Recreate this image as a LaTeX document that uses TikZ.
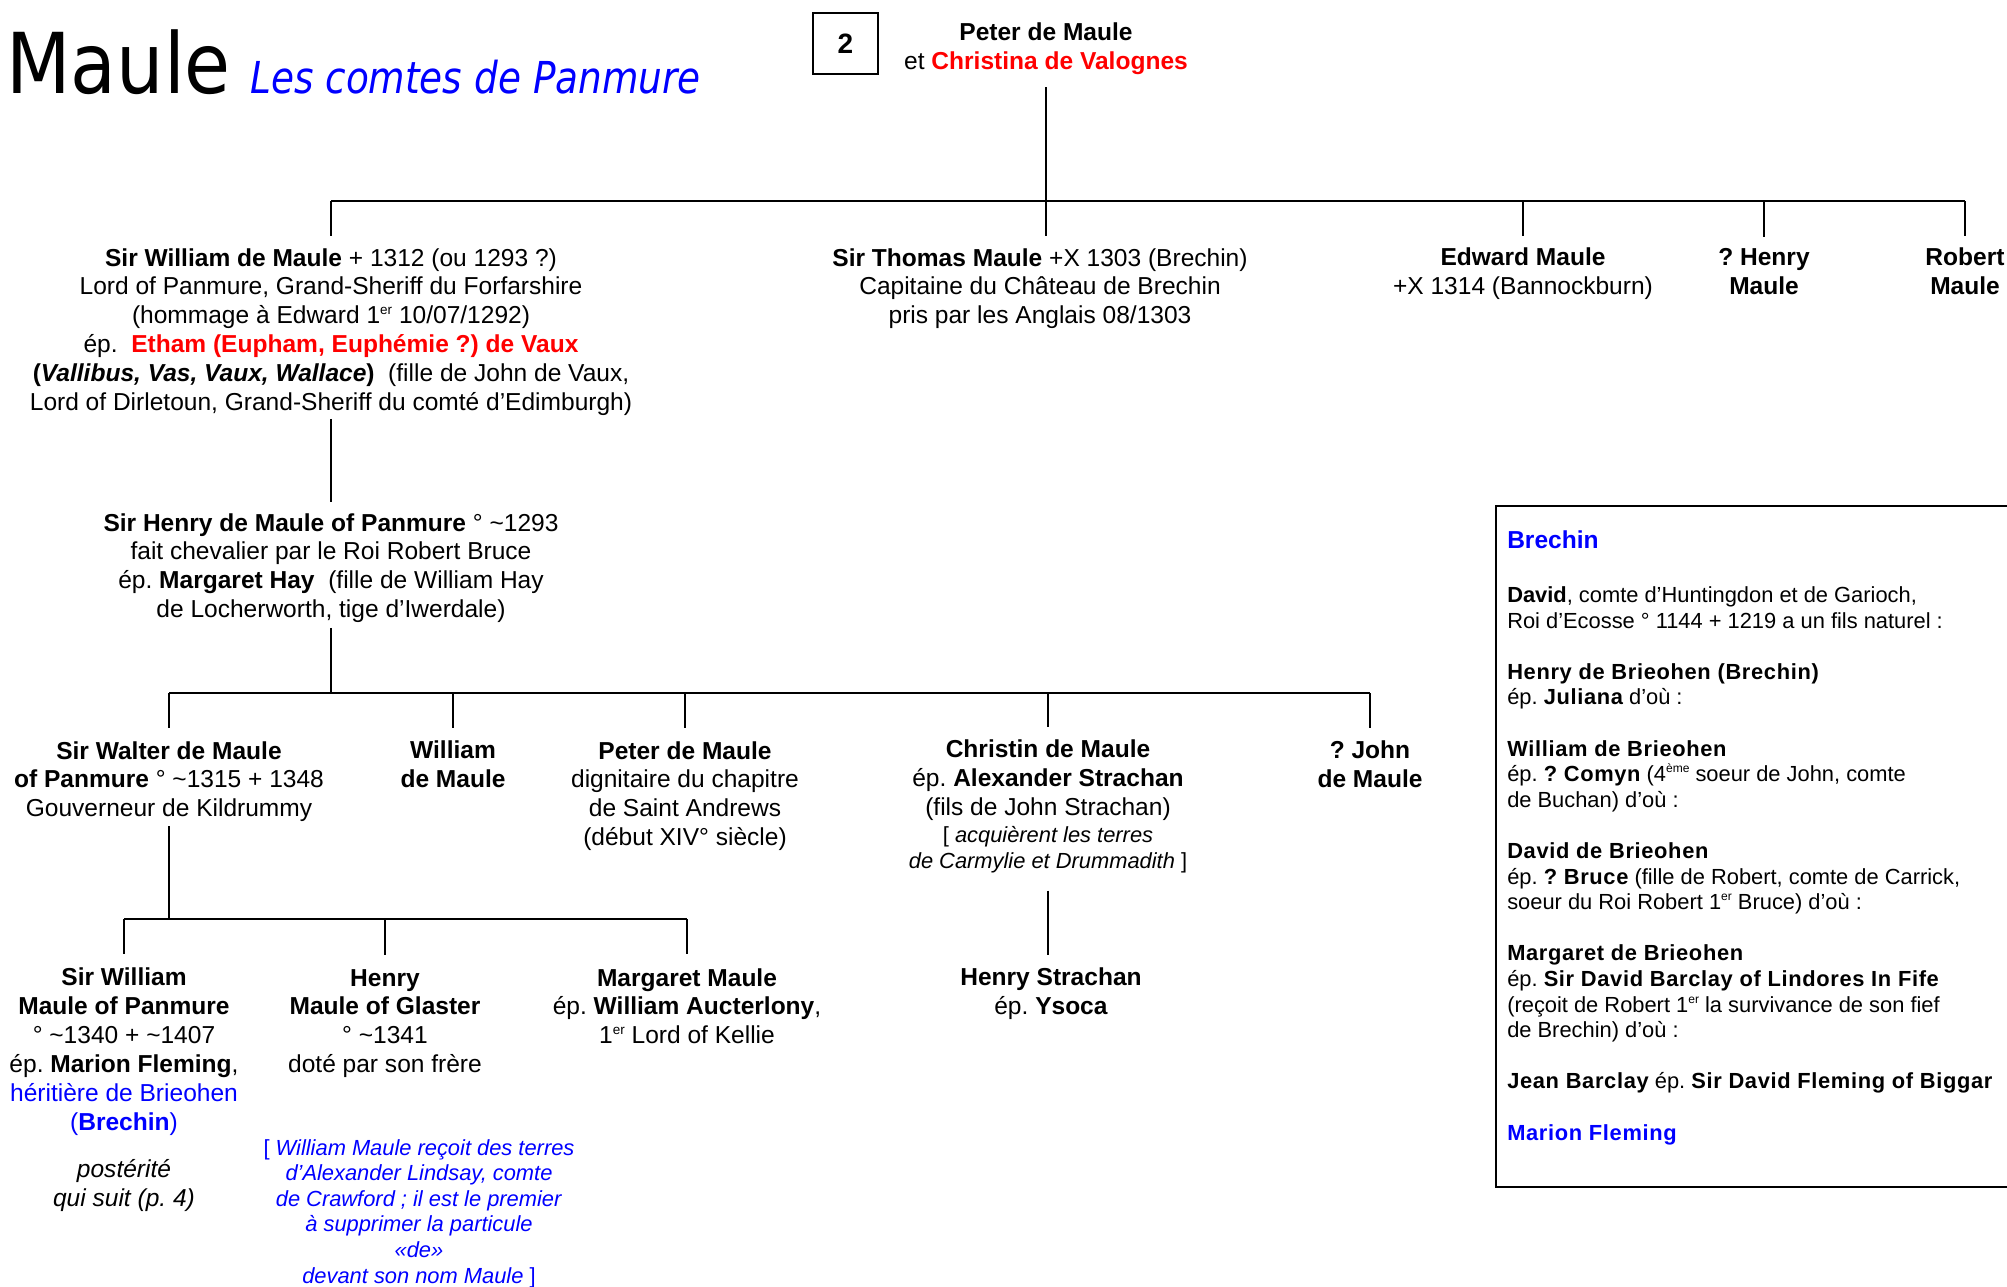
\documentclass[tikz,border=0pt]{standalone}
\usepackage{fontspec}
\usepackage{graphicx}
\setmainfont{Liberation Sans}
\newfontfamily\titlefont{DejaVu Sans}
\frenchspacing
\definecolor{kinred}{RGB}{255,0,0}
\definecolor{kinblue}{RGB}{0,0,255}
\newcommand\mainsize{\fontsize{18.4pt}{21.7pt}\selectfont}
\newcommand\notesize{\fontsize{16.4pt}{19.2pt}\selectfont}
\newcommand\boxb[1]{{\bfseries\addfontfeatures{LetterSpace=3}#1}}
\newcommand\ordsup[1]{\raisebox{0.4em}{\scalebox{0.55}{#1}}}
% a multi-line node's base anchor sits on the baseline of its last line
\tikzset{
  person/.style={align=center, inner sep=0pt, outer sep=0pt, font=\mainsize, anchor=base},
  link/.style={line width=1.8pt},
  frame/.style={line width=2pt},
}
\begin{document}
\begin{tikzpicture}[x=0.75pt, y=-0.75pt]
\useasboundingbox (0,0) rectangle (2007,1286);
\fill[white] (0,0) rectangle (2007,1286);

% heading
\node[anchor=base west, inner sep=0pt] (title) at (6,93)
  {\titlefont\fontsize{63pt}{70pt}\selectfont\scalebox{0.89}[1]{Maule}};
\node[anchor=base west, inner sep=0pt] (subtitle) at (250,93)
  {\titlefont\itshape\fontsize{33pt}{38pt}\selectfont\color{kinblue}\scalebox{0.85}[1]{Les comtes de Panmure}};
\node[draw, line width=2.2pt, minimum width=48.75pt, minimum height=45.75pt, inner sep=0pt,
      font=\fontsize{21pt}{24pt}\selectfont\bfseries] (pagenum) at (845.5,43.5) {2};

% generation 1
\node[person] (peter) at (1046,69)
  {\textbf{Peter de Maule}\\et \textcolor{kinred}{\textbf{Christina de Valognes}}};

% generation 2
\node[person] (william) at (331,410.7)
  {\textbf{Sir William de Maule} + 1312 (ou 1293 ?)\\
   Lord of Panmure, Grand-Sheriff du Forfarshire\\
   (hommage à Edward 1\ordsup{er} 10/07/1292)\\
   ép.~~\textcolor{kinred}{\textbf{Etham (Eupham, Euphémie ?) de Vaux}}\\
   \textbf{(\textit{Vallibus, Vas, Vaux, Wallace})}~~(fille de John de Vaux,\\
   Lord of Dirletoun, Grand-Sheriff du comté d’Edimburgh)};
\node[person] (thomas) at (1040,323.9)
  {\textbf{Sir Thomas Maule} +X 1303 (Brechin)\\
   Capitaine du Château de Brechin\\
   pris par les Anglais 08/1303};
\node[person] (edward) at (1523,294.9)
  {\textbf{Edward Maule}\\+X 1314 (Bannockburn)};
\node[person] (henryq) at (1764,294.9)
  {\textbf{? Henry}\\\textbf{Maule}};
\node[person] (robert) at (1965,294.9)
  {\textbf{Robert}\\\textbf{Maule}};

% generation 3
\node[person] (henry) at (331,617.8)
  {\textbf{Sir Henry de Maule of Panmure} ° \textasciitilde1293\\
   fait chevalier par le Roi Robert Bruce\\
   ép. \textbf{Margaret Hay}~~(fille de William Hay\\
   de Locherworth, tige d’Iwerdale)};

% generation 4
\node[person] (walter) at (169,816.9)
  {\textbf{Sir Walter de Maule}\\
   \textbf{of Panmure} ° \textasciitilde1315 + 1348\\
   Gouverneur de Kildrummy};
\node[person] (williamb) at (453,787.9)
  {\textbf{William}\\\textbf{de Maule}};
\node[person] (peterb) at (685,845.8)
  {\textbf{Peter de Maule}\\
   dignitaire du chapitre\\
   de Saint Andrews\\
   (début XIV° siècle)};
\node[person] (christin) at (1048,868)
  {\textbf{Christin de Maule}\\
   ép. \textbf{Alexander Strachan}\\
   (fils de John Strachan)\\[-1.4pt]
   {\notesize [ \textit{acquièrent les terres}}\\[-2.4pt]
   {\notesize \textit{de Carmylie et Drummadith} ]}};
\node[person] (john) at (1370,787.9)
  {\textbf{? John}\\\textbf{de Maule}};

% generation 5
\node[person] (williamc) at (124,1130.6)
  {\textbf{Sir William}\\
   \textbf{Maule of Panmure}\\
   ° \textasciitilde1340 + \textasciitilde1407\\
   ép. \textbf{Marion Fleming},\\
   \textcolor{kinblue}{héritière de Brieohen}\\
   \textcolor{kinblue}{(\textbf{Brechin})}};
\node[person, font=\mainsize\itshape] (posterity) at (124,1206)
  {postérité\\qui suit (p. 4)};
\node[person] (henryc) at (385,1072.8)
  {\textbf{Henry}\\
   \textbf{Maule of Glaster}\\
   ° \textasciitilde1341\\
   doté par son frère};
\node[person, font=\notesize, text=kinblue] (lindsay) at (419,1283)
  {[ \textit{William Maule reçoit des terres}\\
   \textit{d’Alexander Lindsay, comte}\\
   \textit{de Crawford ; il est le premier}\\
   \textit{à supprimer la particule}\\
   \textit{«de»}\\
   \textit{devant son nom Maule} ]};
\node[person] (margaret) at (687,1043.9)
  {\textbf{Margaret Maule}\\
   ép. \textbf{William Aucterlony},\\
   1\ordsup{er} Lord of Kellie};
\node[person] (strachan) at (1051,1014.9)
  {\textbf{Henry Strachan}\\ép. \textbf{Ysoca}};

% connectors
\coordinate (bara) at (0,201);
\coordinate (barb) at (0,693);
\coordinate (barc) at (0,919);

\draw[link] ([yshift=-9.75pt]peter.south) -- (peter.south |- bara);
\draw[link] (william.north |- bara) -- (robert.north |- bara);
\foreach \c in {william, edward, henryq, robert}
  \draw[link] (\c.north |- bara) -- ([yshift=9pt]\c.north);
\draw[link] (peter.south |- bara) -- ([yshift=9pt]peter.south |- thomas.north);

\draw[link] ([yshift=-2.25pt]william.south) -- ([yshift=8.25pt]henry.north);

\draw[link] ([yshift=-3.75pt]henry.south) -- (henry.south |- barb);
\draw[link] (walter.north |- barb) -- (john.north |- barb);
\foreach \c in {walter, williamb, peterb, christin, john}
  \draw[link] (\c.north |- barb) -- ([yshift=9.75pt]\c.north);

\draw[link] ([yshift=-3pt]walter.south) -- (walter.south |- barc);
\draw[link] (williamc.north |- barc) -- (margaret.north |- barc);
\foreach \c in {williamc, henryc, margaret}
  \draw[link] (\c.north |- barc) -- ([yshift=10.5pt]\c.north);

\draw[link] ([yshift=-13.5pt]christin.south) -- ([yshift=9.75pt]christin.south |- strachan.north);

% side panel on Brechin
\draw[frame] (2007,506) -- (1496,506) -- (1496,1187) -- (2007,1187);
\node[anchor=base west, inner sep=0pt, font=\mainsize\bfseries, text=kinblue] (panelhead) at (1507,548) {Brechin};
\node[anchor=base west, inner sep=0pt, align=left, font=\notesize] (panel) at (1507,1140)
  {\textbf{David}, comte d’Huntingdon et de Garioch,\\
   Roi d’Ecosse ° 1144 + 1219 a un fils naturel :\\[19.2pt]
   \boxb{Henry de Brieohen (Brechin)}\\
   ép. \boxb{Juliana} d’où :\\[19.2pt]
   \boxb{William de Brieohen}\\
   ép. \boxb{? Comyn} (4\ordsup{ème} soeur de John, comte\\
   de Buchan) d’où :\\[19.2pt]
   \boxb{David de Brieohen}\\
   ép. \boxb{? Bruce} (fille de Robert, comte de Carrick,\\
   soeur du Roi Robert 1\ordsup{er} Bruce) d’où :\\[19.2pt]
   \boxb{Margaret de Brieohen}\\
   ép. \boxb{Sir David Barclay of Lindores In Fife}\\
   (reçoit de Robert 1\ordsup{er} la survivance de son fief\\
   de Brechin) d’où :\\[19.2pt]
   \boxb{Jean Barclay} ép. \boxb{Sir David Fleming of Biggar}\\[19.2pt]
   \textcolor{kinblue}{\boxb{Marion Fleming}}};
\end{tikzpicture}
\end{document}
